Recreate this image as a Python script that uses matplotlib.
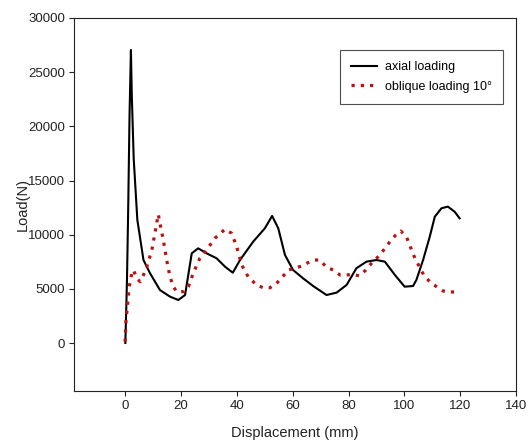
import matplotlib
matplotlib.use("Agg")
import matplotlib.pyplot as plt

axial_x = [0, 0.3, 0.6, 1.0, 1.5, 2.0, 2.3, 3.0, 4.3, 6.5, 8.8, 12.4, 16, 19, 21.4, 23.8, 26.1,
           29.1, 32.7, 35.7, 38.5, 41.1, 45.8, 50, 52.6, 54.8, 57.2, 60.1, 63.7, 67.3, 72.1,
           75.7, 79.3, 82.8, 86.4, 90, 93, 96.6, 100.1, 103.1, 104.3, 106.7, 109.1, 110.9,
           113.3, 115.6, 118, 119.8]
axial_y = [0, 2900, 6000, 12000, 21000, 27050, 23000, 17000, 11360, 7660, 6460, 4890, 4280,
           3970, 4430, 8280, 8740, 8280, 7820, 7050, 6490, 7660, 9350, 10590, 11730, 10590,
           8130, 6740, 5970, 5260, 4430, 4650, 5360, 6900, 7510, 7660, 7510, 6280, 5200,
           5260, 5820, 7660, 9820, 11660, 12440, 12590, 12120, 11510]

oblique_x = [-0.1, 0.25, 0.85, 1.4, 2.3, 2.9, 4.1, 5.3, 6.5, 7.7, 9.5, 10.6, 11.8, 12.4, 13.6,
             14.8, 16, 17.2, 18.4, 20.8, 22.6, 24.3, 26.7, 29.1, 32.1, 35.7, 38.1, 39.9,
             41.7, 44, 47, 49.4, 51.8, 54.2, 56.6, 58.4, 60.8, 63.2, 65.5, 67.9, 69.7, 72.1,
             74.5, 76.9, 79.3, 81.6, 83.8, 86.2, 88.2, 90.6, 92.6, 94.8, 96.9, 98.7, 100.7,
             101.9, 102.9, 104.1, 105.5, 106.9, 109.1, 111.5, 113.9, 116.3, 118.7]
oblique_y = [120, 2120, 3660, 5200, 6430, 6740, 5970, 5660, 6280, 7050, 8590, 10130, 11880,
             11050, 9510, 7660, 6120, 5200, 4740, 4740, 5200, 6430, 7820, 8590, 9670, 10500,
             10130, 8890, 7200, 6120, 5360, 5100, 5100, 5510, 6190, 6740, 6900, 7110, 7420,
             7660, 7660, 6990, 6740, 6280, 6280, 6340, 6190, 6740, 7360, 7970, 8590, 9350,
             9970, 10340, 9820, 9050, 8340, 7660, 6990, 6280, 5660, 5200, 4800, 4710, 4710]

x_ticks = [0, 20, 40, 60, 80, 100, 120, 140]
y_ticks = [0, 5000, 10000, 15000, 20000, 25000, 30000]

plt.rcParams['font.family'] = ['Liberation Sans', 'DejaVu Sans']

fig = plt.figure(figsize=(5.29, 4.44), dpi=100)
ax = fig.add_axes([74 / 529, 1 - 391 / 444, (516 - 74) / 529, (391 - 18) / 444])

ax.plot(axial_x, axial_y, color='black', lw=1.5, label='axial loading')
ax.plot(oblique_x, oblique_y, color='#bb1111', lw=2.3, linestyle=(0, (1, 1.9)),
        label='oblique loading 10°')

ax.set_xlim(-18.4, 140)
ax.set_ylim(-4430, 30000)
ax.set_xticks(x_ticks)
ax.set_yticks(y_ticks)
ax.tick_params(axis='both', direction='out', length=3.5, width=0.8, labelsize=9.5,
               colors='#222222', labelcolor='#222222')
ax.tick_params(axis='x', pad=3)
ax.tick_params(axis='y', pad=3)
for s in ax.spines.values():
    s.set_linewidth(0.8)
    s.set_color('#222222')

ax.set_xlabel('Displacement (mm)', fontsize=10.5, color='#222222', labelpad=10)
ax.set_ylabel('Load(N)', fontsize=10.5, color='#222222', labelpad=-1)

leg = ax.legend(loc='upper right', bbox_to_anchor=(503 / 529, 1 - 50 / 444),
                bbox_transform=fig.transFigure, fontsize=9, frameon=True, fancybox=False,
                edgecolor='#222222', handlelength=2.1, handletextpad=0.6, borderpad=0.9,
                labelspacing=0.6, borderaxespad=0)
leg.get_frame().set_linewidth(0.8)

fig.savefig('out.png', dpi=100)
